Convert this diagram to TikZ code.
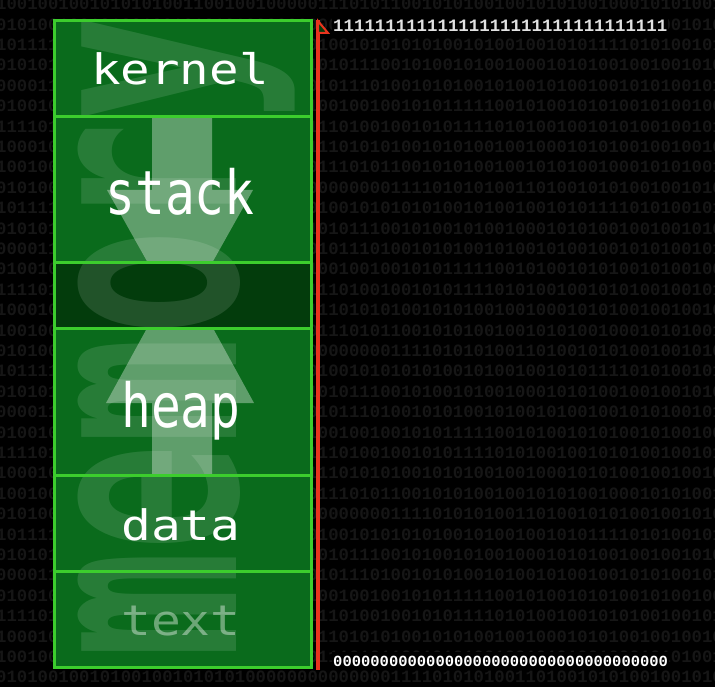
\documentclass[tikz,border=0pt]{standalone}
\usepackage{fontspec}
\newfontfamily\lblfont{DejaVu Sans Mono}
\newfontfamily\binfont{Liberation Mono}
\definecolor{bggreen}{RGB}{10,107,28}
\definecolor{gapgreen}{RGB}{3,60,12}
\definecolor{linegreen}{RGB}{60,205,45}
\definecolor{addrred}{RGB}{232,52,30}
\definecolor{bindigit}{RGB}{22,22,22}
\definecolor{addrtext}{RGB}{225,225,225}
\newcommand\bgrowtext[1]{\ifcase#1
1001001001010101001100100100000111010110010101001001010100100010101001\or
0101010010010101010111011010101010111001010010100100010101001001001010\or
1111010100100101001001010000101110100100101011110101001001010100100101\or
0101001001010010010101010000000000000011110101010011010010101001001010\or
0000111111111001001101010101000101110100101010010100101001001010100101\or
1000101010000000101001010101001110101010010101001001000101010010010010\or
1011110101001001010101001010100100101010101001010010010101111010100101\or
0100101010100100001010100100101001001001010111110010100101010010100100\fi}
\tikzset{
  bgdigits/.style={text=bindigit, font=\binfont\bfseries\fontsize{17.3}{17.3}\selectfont, inner sep=0, anchor=west},
  sect/.style={fill=bggreen},
  gapsect/.style={fill=gapgreen},
  sepline/.style={draw=linegreen, line width=3},
  growarrow/.style={fill=white, fill opacity=0.35},
  lbl/.style={text=white, font=\lblfont\fontsize{42}{42}\selectfont, inner sep=0, anchor=base},
  wm/.style={text=white, text opacity=0.12, font=\lblfont\bfseries\fontsize{283}{283}\selectfont, inner sep=0},
  addr/.style={text=addrtext, font=\binfont\bfseries, fill=black, inner xsep=1, inner ysep=4, anchor=west},
  redline/.style={draw=addrred, line width=4},
}
\begin{document}
\begin{tikzpicture}[x=1pt,y=-1pt]
\useasboundingbox (0,0) rectangle (715,687);
\fill[black] (0,0) rectangle (715,687);
% background binary digits
\foreach \i in {0,...,33}{
  \pgfmathtruncatemacro\k{mod(\i*3,8)}
  \node[bgdigits] (bg\i) at (-4, {4+20.4*\i}) {\bgrowtext{\k}};
}
% sections
\coordinate (tl) at (54.5,20.5);
\coordinate (br) at (311.5,667.5);
\path[sect] (54.5,20.5) rectangle (311.5,667.5);
% growth arrows
\path[growarrow] (152,118) -- (212,118) -- (212,190) -- (253,190) -- (180,320) -- (107,190) -- (152,190) -- cycle;
\path[growarrow] (152,474) -- (212,474) -- (212,403) -- (254,403) -- (180,268) -- (106,403) -- (152,403) -- cycle;
% free gap
\path[gapsect] (54.5,263) rectangle (311.5,328);
% watermark
\node[wm, rotate=90, anchor=base west] (wmark) at (236,659) {\scalebox{0.63}[1]{memory}};
% borders and separators
\draw[sepline] (tl) rectangle (br);
\draw[sepline] (54.5,117) -- (311.5,117);
\draw[sepline] (54.5,263) -- (311.5,263);
\draw[sepline] (54.5,328) -- (311.5,328);
\draw[sepline] (54.5,475) -- (311.5,475);
\draw[sepline] (54.5,571) -- (311.5,571);
% labels
\node[lbl] (kernel) at (180,85) {\scalebox{1.17}[1]{kernel}};
\node[lbl] (stack) at (180,215) {\scalebox{1.18}[1.45]{stack}};
\node[lbl] (heap) at (181,427) {\scalebox{1.18}[1.45]{heap}};
\node[lbl] (data) at (181,540) {\scalebox{1.18}[1]{data}};
\node[lbl, text opacity=0.4] (text) at (181,635) {\scalebox{1.18}[1]{text}};
% address axis
\coordinate (axtop) at (318,20);
\coordinate (axbot) at (318,670);
\draw[redline] (axtop) -- (axbot);
\draw[draw=addrred, line width=2, fill=gapgreen] (318,21) -- (328,33) -- (318,33) -- cycle;
\node[addr, font=\binfont\bfseries\fontsize{17.4}{17.4}\selectfont] (ones) at (332,26) {11111111111111111111111111111111};
\node[addr, text=white, font=\binfont\bfseries\fontsize{15.5}{15.5}\selectfont] (zeros) at (332,661) {000000000000000000000000000000000000};
\end{tikzpicture}
\end{document}
